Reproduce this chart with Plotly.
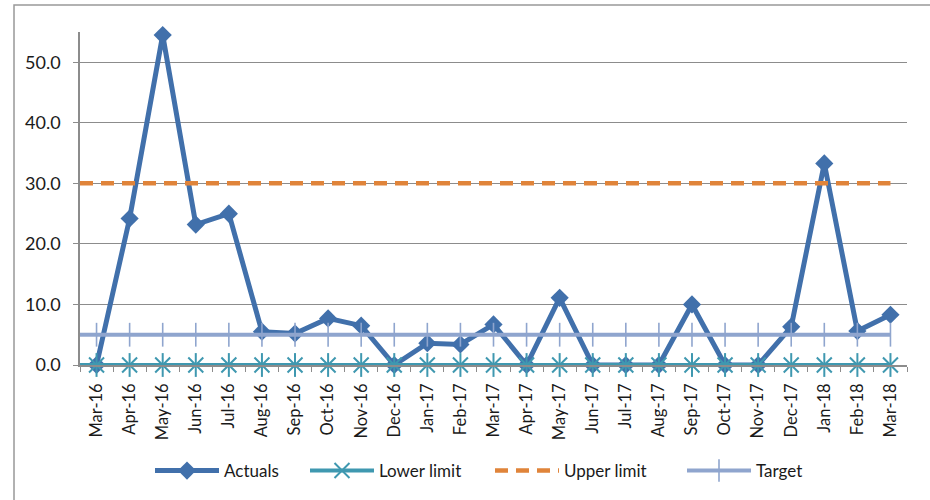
import plotly.graph_objects as go

# Monthly figures, Mar-16 .. Mar-18
months = ["Mar-16", "Apr-16", "May-16", "Jun-16", "Jul-16", "Aug-16", "Sep-16",
          "Oct-16", "Nov-16", "Dec-16", "Jan-17", "Feb-17", "Mar-17", "Apr-17",
          "May-17", "Jun-17", "Jul-17", "Aug-17", "Sep-17", "Oct-17", "Nov-17",
          "Dec-17", "Jan-18", "Feb-18", "Mar-18"]
actuals = [0.0, 24.2, 54.5, 23.2, 25.0, 5.5, 5.2, 7.7, 6.5, 0.0, 3.6, 3.4, 6.7,
           0.0, 11.1, 0.0, 0.0, 0.0, 10.0, 0.0, 0.0, 6.3, 33.3, 5.6, 8.3]
lower_limit = [0.0] * len(months)
upper_limit = [30.0] * len(months)
target = [5.0] * len(months)
y_ticks = [0, 10, 20, 30, 40, 50]

C_ACT = "#4170AB"
C_LOW = "#3F98B0"
C_UP = "#E0843A"
C_TGT = "#8FA5CE"
C_GRID = "#8C8C8C"
FONT = "Lato"

idx = list(range(len(months)))
lead = [idx[0] - 0.5, idx[0]]  # constant series run in from the value axis

fig = go.Figure()

fig.add_trace(go.Scatter(
    x=idx, y=actuals, name="Actuals", mode="lines+markers", cliponaxis=False,
    line=dict(color=C_ACT, width=5),
    marker=dict(symbol="diamond", size=14, color=C_ACT),
    legend="legend",
))

# Lower limit: run-in segment, then line with star markers
fig.add_trace(go.Scatter(
    x=lead, y=lower_limit[:2], mode="lines", showlegend=False, hoverinfo="skip",
    cliponaxis=False, line=dict(color=C_LOW, width=4),
))
fig.add_trace(go.Scatter(
    x=idx, y=lower_limit, mode="markers", showlegend=False, hoverinfo="skip",
    cliponaxis=False,
    marker=dict(symbol="line-ns-open", size=17, color=C_LOW,
                line=dict(color=C_LOW, width=2)),
))
fig.add_trace(go.Scatter(
    x=idx, y=lower_limit, name="Lower limit", mode="lines+markers",
    cliponaxis=False, line=dict(color=C_LOW, width=4),
    marker=dict(symbol="x-thin-open", size=15, color=C_LOW,
                line=dict(color=C_LOW, width=2)),
    legend="legend2",
))

fig.add_trace(go.Scatter(
    x=[idx[0] - 0.5] + idx, y=upper_limit[:1] + upper_limit, name="Upper limit",
    mode="lines", line=dict(color=C_UP, width=4.5, dash="13px,8px"),
    legend="legend3",
))

fig.add_trace(go.Scatter(
    x=lead, y=target[:2], mode="lines", showlegend=False, hoverinfo="skip",
    line=dict(color=C_TGT, width=4),
))
fig.add_trace(go.Scatter(
    x=idx, y=target, name="Target", mode="lines+markers",
    line=dict(color=C_TGT, width=4),
    marker=dict(symbol="line-ns-open", size=17, color=C_TGT,
                line=dict(color=C_TGT, width=1.6)),
    legend="legend4",
))

# chart-area frame
fig.add_shape(type="rect", xref="paper", yref="paper",
              x0=-0.0798, x1=1.3, y0=-0.8, y1=1.081,
              line=dict(color="#999999", width=1.5), layer="below")


def legend_box(left_px):
    return dict(orientation="h", xref="container", yref="container",
                x=left_px / 930, xanchor="left", y=0.058, yanchor="middle",
                font=dict(size=17, family=FONT, color="#1a1a1a"),
                itemwidth=64, bgcolor="rgba(0,0,0,0)")


fig.update_layout(
    width=930, height=500, autosize=False,
    margin=dict(l=80, r=23, t=32, b=135),
    paper_bgcolor="white", plot_bgcolor="white",
    font=dict(family=FONT, size=17, color="#1a1a1a"),
    showlegend=True,
    legend=legend_box(150),
    legend2=legend_box(305),
    legend3=legend_box(490),
    legend4=legend_box(682),
    xaxis=dict(
        range=[-0.5, len(months) - 0.5], tickmode="array",
        tickvals=idx, ticktext=months, tickangle=-90,
        ticks="", showgrid=False, zeroline=False,
        showline=True, linecolor=C_GRID, linewidth=1.5,
        ticklabelstandoff=10, tickfont=dict(size=16.5),
        minor=dict(ticks="outside", tick0=-0.5, dtick=1, ticklen=5,
                   tickcolor=C_GRID, tickwidth=1.3, showgrid=False),
    ),
    yaxis=dict(
        range=[0, 55], tickmode="array", tickvals=y_ticks, tickformat=".1f",
        showgrid=True, gridcolor=C_GRID, gridwidth=1.3, zeroline=False,
        showline=True, linecolor=C_GRID, linewidth=1.5,
        ticks="outside", ticklen=5, tickcolor=C_GRID, tickwidth=1.3,
        ticklabelstandoff=9, tickfont=dict(size=18),
    ),
)

fig.write_html("out.html")
